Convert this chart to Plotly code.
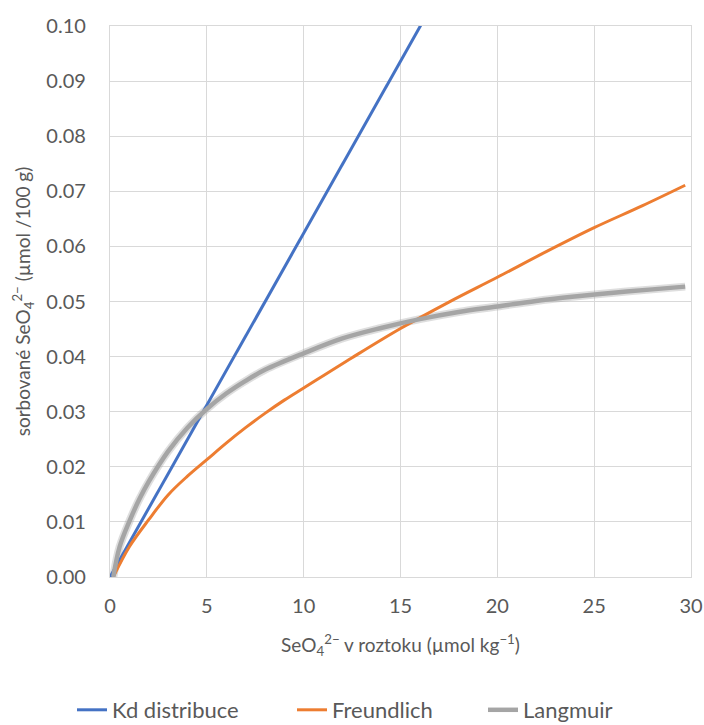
import plotly.graph_objects as go

# Kd distribution (linear)
kd_x = [0.0, 5.0, 10.0, 15.0, 20.0, 25.0, 30.0]
kd_y = [0.0, 0.0312, 0.0624, 0.0936, 0.1248, 0.156, 0.1872]

# Freundlich
fr_x = [0.17, 1.0, 2.0, 3.0, 4.0, 5.0, 6.0, 7.0, 8.0, 9.0, 10.0, 12.5, 15.0, 17.5, 20.0, 22.5, 25.0, 27.5, 29.7]
fr_y = [0.0, 0.0055, 0.0104, 0.0149, 0.0183, 0.0213, 0.0243, 0.0271, 0.0297, 0.0321, 0.0343, 0.0398, 0.0451, 0.0499, 0.0544, 0.0590, 0.0634, 0.0674, 0.0711]

# Langmuir
la_x = [0.17, 0.5, 1.0, 1.5, 2.0, 3.0, 4.0, 5.0, 6.0, 7.0, 8.0, 10.0, 12.0, 14.0, 16.0, 18.0, 20.0, 22.0, 24.0, 26.0, 28.0, 29.7]
la_y = [0.0, 0.0055, 0.0101, 0.0140, 0.0173, 0.0228, 0.0271, 0.0305, 0.0333, 0.0356, 0.0376, 0.0406, 0.0433, 0.0452, 0.0468, 0.0481, 0.0491, 0.0501, 0.0509, 0.0516, 0.0522, 0.0527]

x_ticks = [0, 5, 10, 15, 20, 25, 30]
y_ticks = [0.00, 0.01, 0.02, 0.03, 0.04, 0.05, 0.06, 0.07, 0.08, 0.09, 0.10]

BLUE = "#4472C4"
ORANGE = "#ED7D31"
GRAY = "#A5A5A5"
TXT = "#595959"
GRID = "#D9D9D9"
FONT = "Lato"

W, H = 704, 725
ML, MR, MT, MB = 110, 13, 26, 148
PW = W - ML - MR
PH = H - MT - MB
LEG_Y = (H - MB - 710) / PH


def leg(px):
    return dict(orientation="h", x=(px - ML) / PW, xanchor="left", y=LEG_Y, yanchor="middle",
                font=dict(size=22, color=TXT), bgcolor="rgba(0,0,0,0)", borderwidth=0)


fig = go.Figure()

# soft shadow for Langmuir (drawn first)
fig.add_trace(go.Scatter(x=la_x, y=la_y, mode="lines", line=dict(color="rgba(160,160,160,0.35)", width=8, shape="spline"),
                         showlegend=False, hoverinfo="skip"))
fig.add_trace(go.Scatter(x=kd_x, y=kd_y, mode="lines", name="Kd distribuce", legend="legend",
                         line=dict(color=BLUE, width=3)))
fig.add_trace(go.Scatter(x=fr_x, y=fr_y, mode="lines", name="Freundlich", legend="legend2",
                         line=dict(color=ORANGE, width=3, shape="spline")))
fig.add_trace(go.Scatter(x=la_x, y=la_y, mode="lines", name="Langmuir", legend="legend3",
                         line=dict(color=GRAY, width=4.5, shape="spline")))

fig.update_layout(
    width=W, height=H, autosize=False,
    margin=dict(l=ML, r=MR, t=MT, b=MB, autoexpand=False),
    paper_bgcolor="white", plot_bgcolor="white",
    font=dict(family=FONT, size=20, color=TXT),
    showlegend=True,
    legend=leg(72), legend2=leg(292), legend3=leg(483),
    xaxis=dict(range=[0, 30], tickvals=x_ticks, ticktext=[str(v) for v in x_ticks],
               showgrid=True, gridcolor=GRID, gridwidth=1.3, zeroline=False,
               showline=True, linecolor=GRID, linewidth=1.3, mirror=True, automargin=False,
               ticks="", ticklabelstandoff=11, tickfont=dict(size=20, color=TXT),
               title=dict(text="SeO<sub>4</sub><sup>2−</sup> v roztoku (µmol kg<sup>−1</sup>)",
                          font=dict(size=19, color=TXT), standoff=22)),
    yaxis=dict(range=[0, 0.10], tickvals=y_ticks, ticktext=[f"{v:.2f}" for v in y_ticks],
               showgrid=True, gridcolor=GRID, gridwidth=1.3, zeroline=False,
               showline=True, linecolor=GRID, linewidth=1.3, mirror=True, automargin=False,
               ticks="", ticklabelstandoff=19, tickfont=dict(size=20, color=TXT),
               title=dict(text="sorbované SeO<sub>4</sub><sup>2−</sup> (µmol /100 g)",
                          font=dict(size=19, color=TXT), standoff=10)),
)

fig.write_html("out.html", config={"displayModeBar": False},
               post_script="document.body.style.margin='0';document.body.style.overflow='hidden';")
